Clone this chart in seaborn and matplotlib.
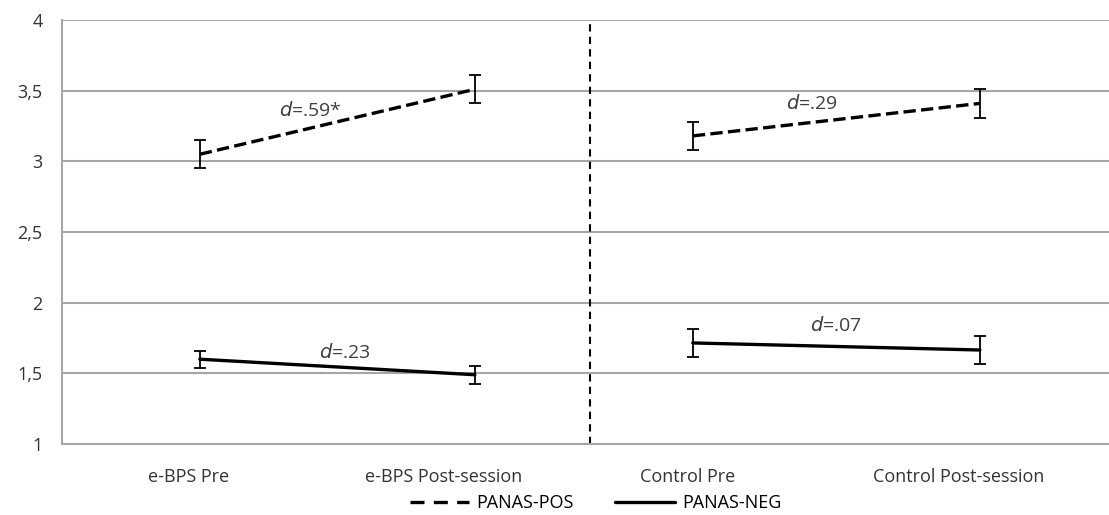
import matplotlib
matplotlib.use("Agg")
import matplotlib.pyplot as plt
from matplotlib.lines import Line2D
from matplotlib.ticker import FixedLocator, NullFormatter
import seaborn as sns
import pandas as pd

# Data
conditions = ["e-BPS Pre", "e-BPS Post-session", "Control Pre", "Control Post-session"]
groups = ["e-BPS", "e-BPS", "Control", "Control"]
pos_mean = [3.05, 3.51, 3.18, 3.41]
pos_err = [0.10, 0.10, 0.10, 0.10]
neg_mean = [1.60, 1.49, 1.715, 1.665]
neg_err = [0.06, 0.065, 0.10, 0.10]
effect_labels = [("e-BPS", "PANAS-POS", ".59*"), ("Control", "PANAS-POS", ".29"),
                 ("e-BPS", "PANAS-NEG", ".23"), ("Control", "PANAS-NEG", ".07")]
y_ticks = [1, 1.5, 2, 2.5, 3, 3.5, 4]
y_tick_labels = ["1", "1,5", "2", "2,5", "3", "3,5", "4"]

# Layout (axis units: one unit per x tick interval)
x_point = [0.543, 1.627, 2.486, 3.617]
x_label = [0.50, 1.505, 2.465, 3.535]
x_ticks = [0.0, 1.0, 3.0]
x_divider = 2.08
x_max = 4.126
label_pos = {("e-BPS", "PANAS-POS"): (0.98, 3.36), ("Control", "PANAS-POS"): (2.955, 3.41),
             ("e-BPS", "PANAS-NEG"): (1.115, 1.65), ("Control", "PANAS-NEG"): (3.05, 1.835)}

rows = []
for i, c in enumerate(conditions):
    rows.append(dict(condition=c, group=groups[i], x=x_point[i], series="PANAS-POS",
                     mean=pos_mean[i], err=pos_err[i]))
    rows.append(dict(condition=c, group=groups[i], x=x_point[i], series="PANAS-NEG",
                     mean=neg_mean[i], err=neg_err[i]))
df = pd.DataFrame(rows)

sns.set_theme(style="white")
plt.rcParams["font.family"] = ["Open Sans", "DejaVu Sans"]

fig = plt.figure(figsize=(11.09, 5.15), dpi=100)
ax = fig.add_axes([62 / 1109, 1 - 444 / 515, 1 - 62 / 1109, (444 - 20) / 515])

grid_color = "#a6a6a6"
text_color = "#333333"
dash_pattern = (4.2, 2.8)

for (g, s), sub in df.groupby(["group", "series"], sort=False):
    sub = sub.sort_values("x")
    sns.lineplot(data=sub, x="x", y="mean", ax=ax, color="black", lw=2.4,
                 estimator=None, errorbar=None, legend=False,
                 linestyle="--" if s == "PANAS-POS" else "-",
                 dashes=dash_pattern if s == "PANAS-POS" else None, zorder=3)
    ax.errorbar(sub["x"], sub["mean"], yerr=sub["err"], fmt="none", ecolor="black",
                elinewidth=1.3, capsize=4.5, capthick=1.3, zorder=4)

for g, s, d in effect_labels:
    lx, ly = label_pos[(g, s)]
    ax.text(lx, ly, r"$\it{d}$" + "=" + d, ha="center", va="center", fontsize=14,
            color="#404040", zorder=5)

ax.axvline(x_divider, color="black", lw=1.5, ls=(0, (3.5, 2.5)), zorder=2)

ax.set_xlim(0, x_max)
ax.set_ylim(1, 4)
ax.set_yticks(y_ticks)
ax.set_yticklabels(y_tick_labels)
ax.yaxis.grid(True, color=grid_color, lw=1.5)
ax.set_axisbelow(True)

ax.xaxis.set_major_locator(FixedLocator(x_ticks))
ax.xaxis.set_major_formatter(NullFormatter())
ax.xaxis.set_minor_locator(FixedLocator(x_label))
ax.set_xticklabels(conditions, minor=True)
ax.tick_params(axis="x", which="major", direction="out", length=6, width=1.2, color=grid_color)
ax.tick_params(axis="x", which="minor", length=0, pad=17, labelsize=13, labelcolor=text_color)
ax.tick_params(axis="y", direction="out", length=8, width=1.2, color=grid_color,
               labelsize=13, labelcolor=text_color, pad=6)
ax.set_xlabel("")
ax.set_ylabel("")

for side in ["top", "right"]:
    ax.spines[side].set_visible(False)
for side in ["left", "bottom"]:
    ax.spines[side].set_color(grid_color)
    ax.spines[side].set_linewidth(1.5)

handles = [Line2D([0], [0], color="black", lw=2.4, ls="--", dashes=dash_pattern),
           Line2D([0], [0], color="black", lw=2.4, ls="-")]
fig.legend(handles, ["PANAS-POS", "PANAS-NEG"], loc="center", bbox_to_anchor=(0.537, 0.023),
           ncol=2, frameon=False, fontsize=13, handlelength=3.3, handletextpad=0.4,
           columnspacing=2.3, labelcolor="black")

fig.savefig("out.png", dpi=100)
